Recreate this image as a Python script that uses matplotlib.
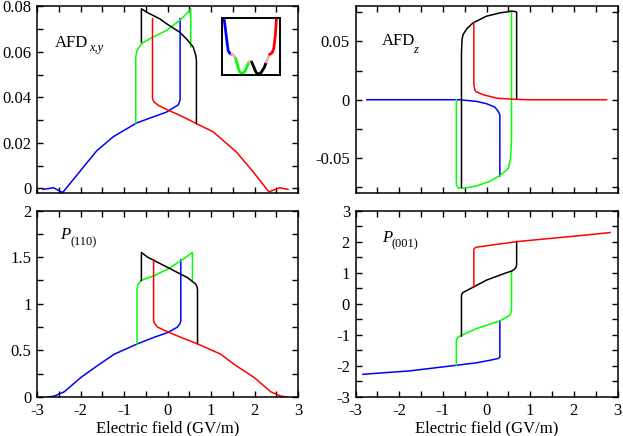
import matplotlib
matplotlib.use("Agg")
import matplotlib.pyplot as plt
from matplotlib.ticker import MultipleLocator

# -------- fonts: Times-like everywhere --------
plt.rcParams['font.family'] = ['Liberation Serif', 'DejaVu Serif']
plt.rcParams['axes.unicode_minus'] = False

# -------- data --------
# AFD_{x,y}
afdxy_blue_x = [-2.86, -2.62, -2.41, -1.63, -1.25, -0.71, -0.02, 0.25, 0.29, 0.29]
afdxy_blue_y = [-0.0004, 0.0003, -0.0018, 0.0165, 0.0227, 0.0288, 0.0336, 0.0368, 0.039, 0.0746]
afdxy_green_x = [-0.73, -0.73, -0.70, -0.60, -0.41, -0.02, 0.28, 0.51, 0.535, 0.535]
afdxy_green_y = [0.0288, 0.058, 0.0607, 0.0636, 0.0658, 0.0695, 0.0739, 0.0782, 0.079, 0.0622]
afdxy_black_x = [-0.60, -0.60, -0.48, -0.18, -0.02, 0.28, 0.435, 0.59, 0.65, 0.665, 0.665]
afdxy_black_y = [0.0644, 0.079, 0.0775, 0.0746, 0.0724, 0.0687, 0.0658, 0.0622, 0.0585, 0.0563, 0.0285]
afdxy_red_x = [-0.345, -0.345, -0.31, -0.215, -0.02, 0.28, 0.665, 1.05, 1.58, 1.97, 2.33, 2.58, 2.77]
afdxy_red_y = [0.0746, 0.0395, 0.038, 0.0366, 0.0347, 0.0322, 0.0285, 0.0249, 0.0161, 0.0073, -0.0015, 0.0003, -0.0004]

# AFD_z
afdz_blue_x = [-2.74, -0.61, -0.23, 0.0, 0.19, 0.27, 0.306, 0.306]
afdz_blue_y = [0.0, 0.0, -0.0014, -0.0034, -0.0063, -0.010, -0.013, -0.0654]
afdz_green_x = [-0.69, -0.69, -0.65, -0.535, -0.23, 0.076, 0.306, 0.50, 0.55, 0.573, 0.573]
afdz_green_y = [0.0, -0.073, -0.0755, -0.076, -0.074, -0.070, -0.065, -0.059, -0.050, -0.035, 0.076]
afdz_black_x = [-0.573, -0.573, -0.56, -0.535, -0.45, -0.306, 0.0, 0.306, 0.573, 0.66, 0.69, 0.69]
afdz_black_y = [-0.075, 0.040, 0.052, 0.056, 0.061, 0.066, 0.0717, 0.0745, 0.076, 0.0757, 0.075, 0.001]
afdz_red_x = [-0.29, -0.29, -0.27, -0.245, -0.076, 0.23, 0.535, 0.92, 2.75]
afdz_red_y = [0.066, 0.013, 0.009, 0.007, 0.0043, 0.0014, 0.0006, 0.0, 0.0]

# P_(110)
p110_blue_x = [-2.75, -2.6, -2.37, -1.99, -1.57, -1.22, -0.69, -0.31, 0.0, 0.23, 0.29, 0.306, 0.306]
p110_blue_y = [0.0, 0.01, 0.057, 0.21, 0.35, 0.46, 0.57, 0.64, 0.69, 0.75, 0.79, 0.82, 1.47]
p110_green_x = [-0.70, -0.70, -0.68, -0.61, -0.31, 0.0, 0.306, 0.573, 0.573]
p110_green_y = [0.57, 1.16, 1.20, 1.25, 1.30, 1.37, 1.46, 1.55, 1.25]
p110_black_x = [-0.60, -0.60, -0.46, 0.0, 0.46, 0.65, 0.68, 0.69, 0.69]
p110_black_y = [1.25, 1.55, 1.50, 1.39, 1.28, 1.21, 1.18, 1.15, 0.57]
p110_red_x = [-0.32, -0.32, -0.30, -0.23, 0.0, 0.306, 0.69, 1.22, 1.53, 1.99, 2.37, 2.6, 2.75]
p110_red_y = [1.47, 0.82, 0.79, 0.75, 0.70, 0.64, 0.57, 0.46, 0.35, 0.21, 0.057, 0.01, 0.0]

# P_(001)
p001_blue_x = [-2.83, -1.76, -0.99, -0.69, -0.23, 0.076, 0.27, 0.306, 0.306]
p001_blue_y = [-2.27, -2.16, -2.03, -1.98, -1.9, -1.82, -1.76, -1.72, -0.55]
p001_green_x = [-0.69, -0.69, -0.66, -0.61, -0.23, 0.306, 0.535, 0.56, 0.573, 0.573]
p001_green_y = [-1.98, -1.17, -1.08, -1.04, -0.8, -0.55, -0.37, -0.3, -0.2, 1.06]
p001_black_x = [-0.573, -0.573, -0.55, -0.5, -0.31, 0.0, 0.38, 0.59, 0.67, 0.69, 0.69]
p001_black_y = [-1.04, 0.28, 0.35, 0.39, 0.53, 0.76, 0.96, 1.06, 1.15, 1.25, 2.0]
p001_red_x = [-0.29, -0.29, -0.27, -0.23, 0.23, 0.7, 1.3, 2.06, 2.83]
p001_red_y = [0.53, 1.75, 1.79, 1.82, 1.91, 2.0, 2.08, 2.18, 2.29]

# inset energy landscape (normalised box coords)
inset_blue = ([0.036, 0.06, 0.089, 0.107, 0.137, 0.167], [0.98, 0.79, 0.55, 0.42, 0.375, 0.36])
inset_pink1 = ([0.167, 0.2, 0.238], [0.36, 0.345, 0.286])
inset_green = ([0.238, 0.274, 0.30, 0.333, 0.365, 0.393, 0.44, 0.464], [0.286, 0.137, 0.06, 0.03, 0.035, 0.06, 0.167, 0.226])
inset_pink2 = ([0.464, 0.488, 0.512], [0.226, 0.244, 0.226])
inset_black = ([0.512, 0.56, 0.59, 0.619, 0.65, 0.679, 0.732, 0.762], [0.226, 0.107, 0.04, 0.018, 0.025, 0.048, 0.137, 0.226])
inset_pink3 = ([0.762, 0.8, 0.82], [0.226, 0.315, 0.36])
inset_red = ([0.82, 0.863, 0.893, 0.917, 0.94], [0.36, 0.387, 0.464, 0.673, 0.98])

BLUE, GREEN, RED, BLACK, PINK = "#0000ff", "#00ff00", "#ff0000", "#000000", "#f0b0b0"
FS = 12
LW = 1.1

fig = plt.figure(figsize=(6.23, 4.36), dpi=100)
W, H = 623.0, 436.0


def make_ax(x0, x1, ytop, ybot):
    return fig.add_axes([x0 / W, 1 - ybot / H, (x1 - x0) / W, (ybot - ytop) / H])


ax_tl = make_ax(37, 298, 6.5, 193)
ax_tr = make_ax(355.5, 617.5, 6.5, 193)
ax_bl = make_ax(37, 298, 210.5, 397)
ax_br = make_ax(355.5, 617.5, 210.5, 397)


def style(ax, ymaj, ymin, show_x):
    ax.set_xlim(-3, 3)
    ax.xaxis.set_major_locator(MultipleLocator(1))
    ax.xaxis.set_minor_locator(MultipleLocator(0.5))
    ax.yaxis.set_major_locator(MultipleLocator(ymaj))
    ax.yaxis.set_minor_locator(MultipleLocator(ymin))
    ax.tick_params(which="both", direction="in", top=True, right=True,
                   length=4.3, width=1.0, labelsize=FS, pad=4)
    if not show_x:
        ax.tick_params(labelbottom=False)
    for s in ax.spines.values():
        s.set_linewidth(1.1)


def draw(ax, pairs):
    for (xs, ys), c in pairs:
        ax.plot(xs, ys, color=c, lw=LW, solid_joinstyle="round")


# main text, then a subscript hung off its lower-right corner
def label(ax, x, y, main, sub, main_style, sub_style, dx, drop):
    t = ax.text(x, y, main, transform=ax.transAxes, fontsize=FS, style=main_style,
                va="baseline")
    ax.annotate(sub, xy=(1, 0), xycoords=t, xytext=(dx, -drop), textcoords="offset points",
                fontsize=9, style=sub_style, va="baseline", ha="left")


draw(ax_tl, [((afdxy_blue_x, afdxy_blue_y), BLUE), ((afdxy_green_x, afdxy_green_y), GREEN),
             ((afdxy_black_x, afdxy_black_y), BLACK), ((afdxy_red_x, afdxy_red_y), RED)])
style(ax_tl, 0.02, 0.01, False)
ax_tl.set_ylim(-0.002, 0.08)
ax_tl.yaxis.set_major_formatter(plt.FuncFormatter(lambda v, p: "0" if abs(v) < 1e-9 else f"{v:.2f}"))
label(ax_tl, 0.07, 0.785, "AFD", "x,y", "normal", "italic", 0.3, 0.0)

draw(ax_tr, [((afdz_blue_x, afdz_blue_y), BLUE), ((afdz_green_x, afdz_green_y), GREEN),
             ((afdz_black_x, afdz_black_y), BLACK), ((afdz_red_x, afdz_red_y), RED)])
style(ax_tr, 0.05, 0.025, False)
ax_tr.set_ylim(-0.08, 0.08)
ax_tr.yaxis.set_major_formatter(plt.FuncFormatter(lambda v, p: "0" if abs(v) < 1e-9 else f"{v:.2f}"))
label(ax_tr, 0.10, 0.795, "AFD", "z", "normal", "italic", -1.0, 3.0)

draw(ax_bl, [((p110_blue_x, p110_blue_y), BLUE), ((p110_green_x, p110_green_y), GREEN),
             ((p110_black_x, p110_black_y), BLACK), ((p110_red_x, p110_red_y), RED)])
style(ax_bl, 0.5, 0.25, True)
ax_bl.set_ylim(0, 2)
ax_bl.yaxis.set_major_formatter(plt.FuncFormatter(lambda v, p: f"{v:g}"))
ax_bl.xaxis.set_major_formatter(plt.FuncFormatter(lambda v, p: f"{v:g}"))
label(ax_bl, 0.088, 0.845, "P", "(110)", "italic", "normal", 0.0, 1.0)
ax_bl.set_xlabel("Electric field (GV/m)", fontsize=FS, labelpad=1)

draw(ax_br, [((p001_blue_x, p001_blue_y), BLUE), ((p001_green_x, p001_green_y), GREEN),
             ((p001_black_x, p001_black_y), BLACK), ((p001_red_x, p001_red_y), RED)])
style(ax_br, 1, 0.5, True)
ax_br.set_ylim(-3, 3)
ax_br.yaxis.set_major_formatter(plt.FuncFormatter(lambda v, p: f"{v:g}"))
ax_br.xaxis.set_major_formatter(plt.FuncFormatter(lambda v, p: f"{v:g}"))
label(ax_br, 0.10, 0.83, "P", "(001)", "italic", "normal", 0.0, 1.0)
ax_br.set_xlabel("Electric field (GV/m)", fontsize=FS, labelpad=1)

# inset in top-left panel
ins = ax_tl.inset_axes([0.709, 0.633, 0.222, 0.306])
for (xs, ys), c in [(inset_blue, BLUE), (inset_pink1, PINK), (inset_green, GREEN),
                    (inset_pink2, PINK), (inset_black, BLACK), (inset_pink3, PINK), (inset_red, RED)]:
    ins.plot(xs, ys, color=c, lw=2.0, solid_capstyle="round")
ins.set_xlim(0, 1)
ins.set_ylim(0, 1)
ins.set_xticks([])
ins.set_yticks([])
for s in ins.spines.values():
    s.set_linewidth(1.4)

fig.savefig("out.png", dpi=100)
